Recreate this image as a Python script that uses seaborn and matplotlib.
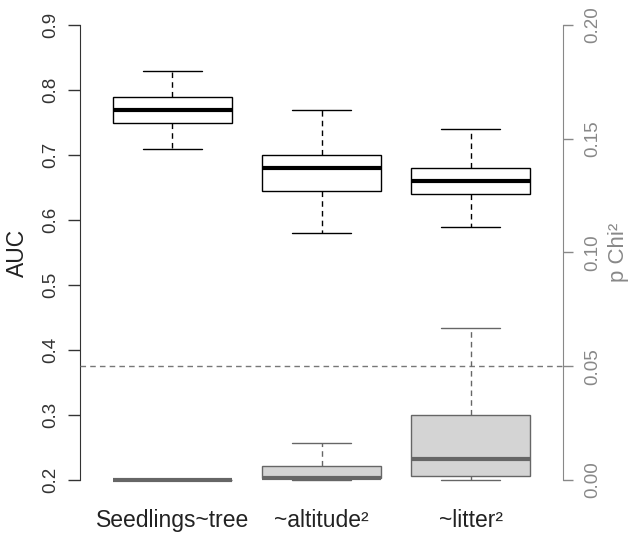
import matplotlib
matplotlib.use('Agg')
import matplotlib.pyplot as plt
import seaborn as sns
import pandas as pd
import numpy as np

# Model labels on the x axis
models = ['Seedlings~tree', '~altitude²', '~litter²']

# AUC five-number summaries (min, q1, median, q3, max)
auc_min = [0.71, 0.58, 0.59]
auc_q1 = [0.75, 0.645, 0.64]
auc_med = [0.77, 0.68, 0.66]
auc_q3 = [0.79, 0.70, 0.68]
auc_max = [0.83, 0.77, 0.74]

# p Chi² five-number summaries
p_min = [0.0, 0.0, 0.0]
p_q1 = [0.0, 0.0007, 0.0018]
p_med = [0.0, 0.001, 0.0094]
p_q3 = [0.0, 0.0063, 0.0284]
p_max = [0.0, 0.0161, 0.067]

p_threshold = 0.05

auc_ticks = [0.2, 0.3, 0.4, 0.5, 0.6, 0.7, 0.8, 0.9]
p_ticks = [0.00, 0.05, 0.10, 0.15, 0.20]


def long_frame(name, mins, q1s, meds, q3s, maxs):
    """Five values per group reproduce the quartiles exactly with linear percentiles."""
    rows = []
    for m, a, b, c, d, e in zip(models, mins, q1s, meds, q3s, maxs):
        for v in (a, b, c, d, e):
            rows.append({'model': m, name: v})
    return pd.DataFrame(rows)


df_auc = long_frame('AUC', auc_min, auc_q1, auc_med, auc_q3, auc_max)
df_p = long_frame('p', p_min, p_q1, p_med, p_q3, p_max)

sns.set_style('white')
plt.rcParams['font.family'] = ['Liberation Sans', 'DejaVu Sans']

fig = plt.figure(figsize=(6.3, 5.34), dpi=100)
ax = fig.add_axes([80 / 630, 1 - 498.2 / 534, 483 / 630, 491.4 / 534])
ax.patch.set_alpha(0)

dash = (0, (4, 3))
sns.boxplot(data=df_auc, x='model', y='AUC', ax=ax, whis=(0, 100), width=0.8,
            color='white', saturation=1, linecolor='black', linewidth=1,
            showfliers=False,
            medianprops={'linewidth': 3, 'color': 'black'},
            whiskerprops={'linestyle': dash})

ax2 = ax.twinx()
gray_edge = '#666666'
sns.boxplot(data=df_p, x='model', y='p', ax=ax2, whis=(0, 100), width=0.8,
            color='#d4d4d4', saturation=1, linecolor=gray_edge, linewidth=1,
            showfliers=False,
            medianprops={'linewidth': 3, 'color': gray_edge},
            whiskerprops={'linestyle': dash})
ax2.axhline(p_threshold, color='#777777', linewidth=1, linestyle=dash, zorder=0)

ax.set_xlim(-0.62, 2.62)
ax.set_ylim(0.172, 0.928)
ax2.set_ylim(-0.008, 0.208)

ax.set_yticks(auc_ticks)
ax.set_yticklabels([f'{t:.1f}' for t in auc_ticks])
ax2.set_yticks(p_ticks)
ax2.set_yticklabels([f'{t:.2f}' for t in p_ticks])

for s in ['top', 'right', 'bottom']:
    ax.spines[s].set_visible(False)
for s in ['top', 'left', 'bottom']:
    ax2.spines[s].set_visible(False)
ax.spines['left'].set_bounds(0.2, 0.9)
ax.spines['left'].set_color('#333333')
ax2.spines['right'].set_bounds(0.0, 0.2)
ax2.spines['right'].set_color('#888888')

ax.tick_params(axis='y', length=9, width=1, color='#333333', pad=6,
               labelsize=13.5, labelrotation=90, labelcolor='#333333', left=True)
for lab in ax.get_yticklabels():
    lab.set_va('center')
ax2.tick_params(axis='y', length=7, width=1, color='#888888', pad=8,
                labelsize=13.5, labelrotation=90, labelcolor='#888888', right=True)
for lab in ax2.get_yticklabels():
    lab.set_va('center')

ax.tick_params(axis='x', length=0, pad=8, labelsize=16.5, labelcolor='#222222')
ax2.tick_params(axis='x', length=0)

ax.set_xlabel('')
ax2.set_xlabel('')
ax.set_ylabel('AUC', fontsize=16.5, color='#222222')
ax.yaxis.set_label_coords(-0.106, 0.5)
ax2.set_ylabel('p Chi²', fontsize=16, color='#888888')
ax2.yaxis.set_label_coords(1.094, 0.5)

plt.savefig('out.png', dpi=100)
plt.close()
